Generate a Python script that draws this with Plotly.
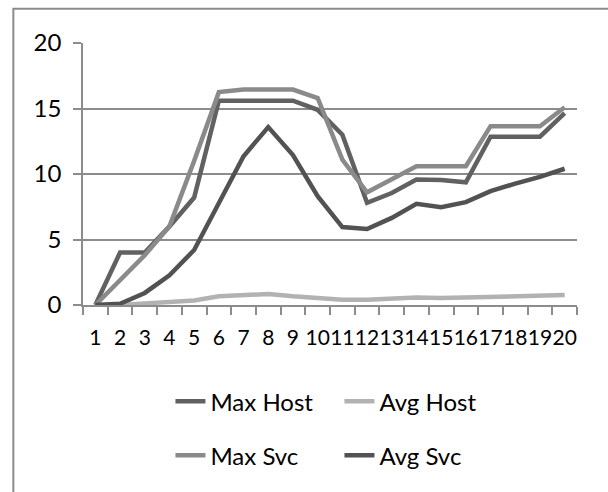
import plotly.graph_objects as go

# Sample index 1..20
categories = [str(i) for i in range(1, 21)]

max_host = [0, 4.0, 4.0, 6.0, 8.2, 15.6, 15.6, 15.6, 15.6, 14.9,
            13.0, 7.8, 8.55, 9.58, 9.55, 9.37, 12.85, 12.85, 12.85, 14.65]
avg_host = [0, 0.0, 0.12, 0.2, 0.35, 0.66, 0.79, 0.84, 0.66, 0.53,
            0.4, 0.4, 0.5, 0.58, 0.53, 0.57, 0.66, 0.66, 0.66, 0.76]
max_svc = [0, 1.95, 3.8, 6.0, 11.0, 16.25, 16.45, 16.45, 16.45, 15.8,
           11.1, 8.6, 9.58, 10.6, 10.6, 10.6, 13.65, 13.65, 13.65, 15.1]
avg_svc = [0, 0.1, 0.92, 2.27, 4.2, 7.8, 11.36, 13.58, 11.45, 8.3,
           5.95, 5.8, 6.65, 7.72, 7.46, 7.85, 8.69, 9.27, 9.78, 10.4]

y_ticks = [0, 5, 10, 15, 20]

series = [
    ("Max Host", max_host, "#616161", "legend"),
    ("Avg Host", avg_host, "#b2b2b2", "legend"),
    ("Max Svc", max_svc, "#8a8a8a", "legend2"),
    ("Avg Svc", avg_svc, "#525252", "legend2"),
]

FONT = "Lato"
fig = go.Figure()
for name, vals, color, leg in series:
    fig.add_trace(go.Scatter(
        x=categories, y=vals, name=name, mode="lines",
        line=dict(color=color, width=4.5),
        legend=leg,
    ))

axis_gray = "#8c8c8c"
fig.update_layout(
    width=608, height=492,
    margin=dict(l=83, r=31, t=43, b=187),
    paper_bgcolor="white", plot_bgcolor="white",
    font=dict(family=FONT, size=24, color="#000000"),
    xaxis=dict(
        type="category", tickmode="array", tickvals=categories, ticktext=categories,
        range=[-0.5, len(categories) - 0.5],
        tickangle=0, tickson="boundaries", ticks="outside", ticklen=8,
        tickcolor=axis_gray, tickwidth=1.5,
        showline=True, linecolor=axis_gray, linewidth=1.5,
        showgrid=False, zeroline=False,
        ticklabelstandoff=13,
        tickfont=dict(family=FONT, size=21),
    ),
    yaxis=dict(
        range=[0, 20], tickmode="array", tickvals=y_ticks,
        ticks="outside", ticklen=8, tickcolor=axis_gray, tickwidth=1.5,
        showline=True, linecolor=axis_gray, linewidth=1.5,
        showgrid=True, gridcolor=axis_gray, gridwidth=1.5,
        zeroline=False, ticklabelstandoff=7,
        tickfont=dict(family=FONT, size=24),
    ),
    legend=dict(
        orientation="h", x=0.177, y=-0.369, xanchor="left", yanchor="middle",
        entrywidth=124, entrywidthmode="pixels",
        font=dict(family=FONT, size=24), bgcolor="rgba(0,0,0,0)",
    ),
    legend2=dict(
        orientation="h", x=0.177, y=-0.575, xanchor="left", yanchor="middle",
        entrywidth=124, entrywidthmode="pixels",
        font=dict(family=FONT, size=24), bgcolor="rgba(0,0,0,0)",
    ),
    shapes=[dict(
        type="rect", xref="paper", yref="paper",
        x0=-0.141, x1=1.3, y0=-1.0, y1=1.131,
        line=dict(color=axis_gray, width=2), fillcolor="rgba(0,0,0,0)",
        layer="below",
    )],
)

fig.write_html("out.html")
